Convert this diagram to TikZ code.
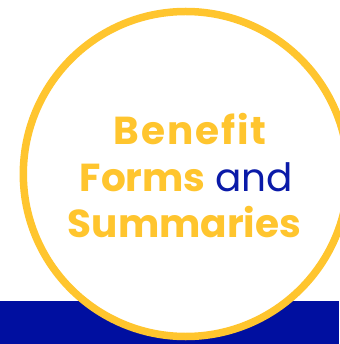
\documentclass[tikz,border=0pt]{standalone}
\usepackage{fontspec}
\setmainfont{Poppins}
\newfontfamily\boldpop{Poppins}[UprightFont=* Bold]
\newfontfamily\boldpopwide{Poppins}[UprightFont=* Bold, LetterSpace=5]
\newfontfamily\regpop{Poppins}
\definecolor{ringyellow}{HTML}{FFC52E}
\definecolor{barblue}{HTML}{000FA0}
\definecolor{textblue}{HTML}{0A1AA8}
\tikzset{
  ttl/.style={font=\boldpop\fontsize{39}{46}\selectfont, text=ringyellow, inner sep=0pt, anchor=base},
}
\begin{document}
\begin{tikzpicture}[x=1pt,y=-1pt]
\useasboundingbox (0,0) rectangle (339,344);
\fill[barblue] (0,301) rectangle (339,344);
\node[circle, draw=ringyellow, fill=white, line width=7.5pt, minimum size=325pt, inner sep=0pt] (ring) at (185.8,174) {};
\node[ttl, font=\boldpopwide\fontsize{39}{46}\selectfont] (l1) at (190,145) {Benefit};
\node[ttl] (l2) at (186.5,191) {Forms\hspace{10pt}{\regpop\color{textblue}and}};
\node[ttl] (l3) at (184.5,237) {Summaries};
\end{tikzpicture}
\end{document}
